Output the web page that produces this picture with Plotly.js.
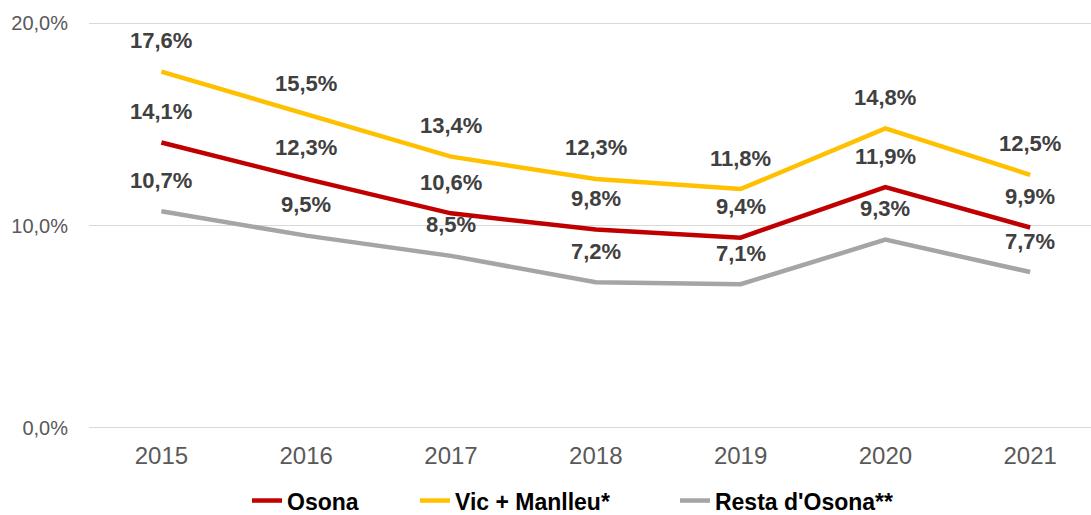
<!DOCTYPE html>
<html><head><meta charset="utf-8">
<script src="https://cdn.plot.ly/plotly-3.0.1.min.js"></script>
<style>html,body{margin:0;padding:0;background:#fff}#c{width:1091px;height:515px}</style>
</head><body><div id="c"></div>
<script>
const years = ['2015','2016','2017','2018','2019','2020','2021'];
const osona = [14.1, 12.3, 10.6, 9.8, 9.4, 11.9, 9.9];
const vicManlleu = [17.6, 15.5, 13.4, 12.3, 11.8, 14.8, 12.5];
const resta = [10.7, 9.5, 8.5, 7.2, 7.1, 9.3, 7.7];
const names = ['Osona', 'Vic + Manlleu*', "Resta d'Osona**"];
const yTicks = [0, 10, 20];
const yTickText = ['0,0%', '10,0%', '20,0%'];

const series = [osona, vicManlleu, resta];
const colors = ['#C00000', '#FFC000', '#A5A5A5'];
const legendIds = ['legend', 'legend2', 'legend3'];
const traces = series.map((s, i) => ({
  x: years, y: s, name: names[i], type: 'scatter', mode: 'lines',
  line: {color: colors[i], width: 4.5}, hoverinfo: 'skip', legend: legendIds[i]
}));
const fmt = v => v.toFixed(1).replace('.', ',') + '%';
const annotations = [];
series.forEach(s => s.forEach((v, j) => annotations.push({
  x: j, y: v, xref: 'x', yref: 'y', text: fmt(v), showarrow: false,
  yshift: 31, font: {family: 'Liberation Sans, Arial, sans-serif', size: 22, color: '#404040', weight: 'bold'}
})));
const legFont = {family: 'Liberation Sans, Arial, sans-serif', size: 23, color: '#000', weight: 'bold'};
const legPos = [0.1577, 0.3253, 0.5848];
const mkLeg = x => ({orientation: 'h', x: x, xanchor: 'left', yref: 'container', y: 0.028, yanchor: 'middle',
  font: legFont, itemclick: false, bgcolor: 'rgba(0,0,0,0)'});
const layout = {
  width: 1091, height: 515,
  margin: {l: 89, r: 0, t: 20, b: 84},
  paper_bgcolor: '#fff', plot_bgcolor: '#fff',
  font: {family: 'Liberation Sans, Arial, sans-serif', color: '#595959'},
  xaxis: {type: 'category', range: [-0.5, 6.42], showgrid: false, zeroline: false, showline: false,
    ticks: '', ticklabelstandoff: 8, tickfont: {size: 24, color: '#595959'}, fixedrange: true},
  yaxis: {range: [-0.15, 20.15], tickvals: yTicks, ticktext: yTickText, showgrid: true, gridcolor: '#D9D9D9',
    gridwidth: 1, zeroline: false, showline: false, ticks: '', ticklabelstandoff: 20,
    tickfont: {size: 20, color: '#595959'}, fixedrange: true},
  showlegend: true,
  legend: mkLeg(legPos[0]), legend2: mkLeg(legPos[1]), legend3: mkLeg(legPos[2]),
  annotations: annotations
};
Plotly.newPlot('c', traces, layout, {displayModeBar: false, staticPlot: true});
</script></body></html>
